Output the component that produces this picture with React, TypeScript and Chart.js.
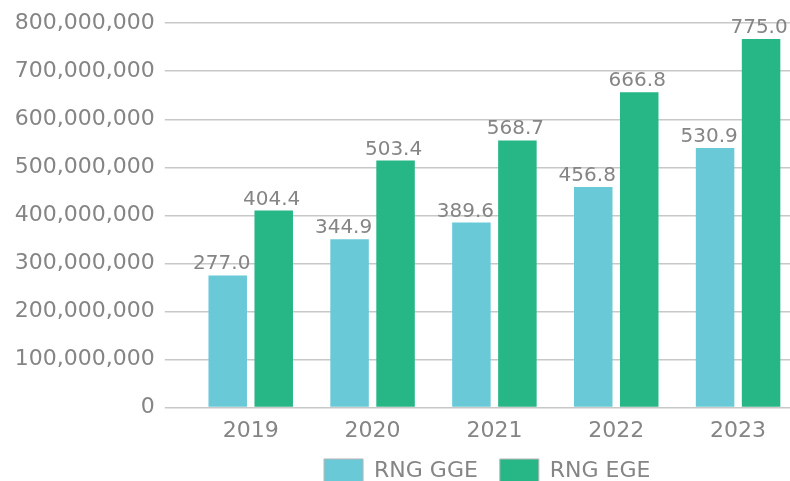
import React, { useEffect, useRef } from "react";
import { Chart, registerables } from "chart.js";

Chart.register(...registerables);

const years = ["2019", "2020", "2021", "2022", "2023"];
const seriesNames = ["RNG GGE", "RNG EGE"];
// bar heights (gallons)
const ggeValues = [275e6, 350e6, 385e6, 459e6, 540e6];
const egeValues = [410e6, 514e6, 556e6, 656e6, 767e6];
// data labels as printed above the bars (millions)
const ggeLabels = ["277.0", "344.9", "389.6", "456.8", "530.9"];
const egeLabels = ["404.4", "503.4", "568.7", "666.8", "775.0"];
const yMin = 0;
const yMax = 800e6;
const yStep = 100e6;

const GGE_COLOR = "#69C9D7";
const EGE_COLOR = "#27B685";
const TEXT = "#858585";
const GRID = "#c8c8c8";
const FONT = '"DejaVu Sans", sans-serif';

const valueLabels = {
  id: "valueLabels",
  afterDatasetsDraw(chart: any) {
    const ctx = chart.ctx;
    const all = [ggeLabels, egeLabels];
    const shift = [-6, -2];
    ctx.save();
    ctx.font = `20px ${FONT}`;
    ctx.fillStyle = TEXT;
    ctx.textAlign = "center";
    ctx.textBaseline = "alphabetic";
    chart.data.datasets.forEach((_: any, i: number) => {
      const meta = chart.getDatasetMeta(i);
      meta.data.forEach((bar: any, j: number) => {
        ctx.fillText(all[i][j], bar.x + shift[i], bar.y - 6);
      });
    });
    ctx.restore();
  },
};

// centre the legend under the plot region instead of the full canvas
const legendShift = {
  id: "legendShift",
  afterLayout(chart: any) {
    if (chart.legend) chart.legend.left = 175.5;
  },
};

export default function App() {
  const ref = useRef<HTMLCanvasElement>(null);
  useEffect(() => {
    if (!ref.current) return;
    const chart = new Chart(ref.current, {
      type: "bar",
      data: {
        labels: years,
        datasets: [
          {
            label: seriesNames[0],
            data: ggeValues,
            backgroundColor: GGE_COLOR,
            borderWidth: 0,
            categoryPercentage: 0.755,
            barPercentage: 0.837,
          },
          {
            label: seriesNames[1],
            data: egeValues,
            backgroundColor: EGE_COLOR,
            borderWidth: 0,
            categoryPercentage: 0.755,
            barPercentage: 0.837,
          },
        ],
      },
      options: {
        responsive: false,
        animation: false,
        devicePixelRatio: 1,
        layout: { padding: { left: 0, right: 1, top: 22, bottom: -12 } },
        scales: {
          x: {
            grid: { display: false, drawTicks: false },
            border: { display: false },
            ticks: { color: TEXT, font: { family: FONT, size: 22 }, padding: 11 },
            afterFit: (s: any) => {
              s.height = 29.5;
            },
          },
          y: {
            min: yMin,
            max: yMax,
            grid: { color: GRID, lineWidth: 1.5, tickLength: 25, drawTicks: true, tickColor: GRID },
            border: { display: false },
            ticks: {
              stepSize: yStep,
              color: TEXT,
              padding: 10,
              font: { family: FONT, size: 22 },
              callback: (v: any) => Number(v).toLocaleString("en-US"),
            },
            afterFit: (s: any) => {
              s.width = 189.8;
            },
          },
        },
        plugins: {
          tooltip: { enabled: false },
          legend: {
            position: "bottom",
            labels: {
              boxWidth: 39,
              boxHeight: 24,
              padding: 22,
              color: TEXT,
              font: { family: FONT, size: 22 },
              generateLabels: (c: any) =>
                Chart.defaults.plugins.legend.labels.generateLabels(c).map((it: any) => ({
                  ...it,
                  strokeStyle: "#b5b5b5",
                  lineWidth: 1,
                })),
            },
          },
        },
      },
      plugins: [valueLabels, legendShift],
    });
    return () => chart.destroy();
  }, []);
  return (
    <div style={{ position: "fixed", left: 0, top: 0, width: 790, height: 481, overflow: "hidden", background: "#fff" }}>
      <canvas ref={ref} width={800} height={481} style={{ width: 800, height: 481, display: "block" }} />
    </div>
  );
}
